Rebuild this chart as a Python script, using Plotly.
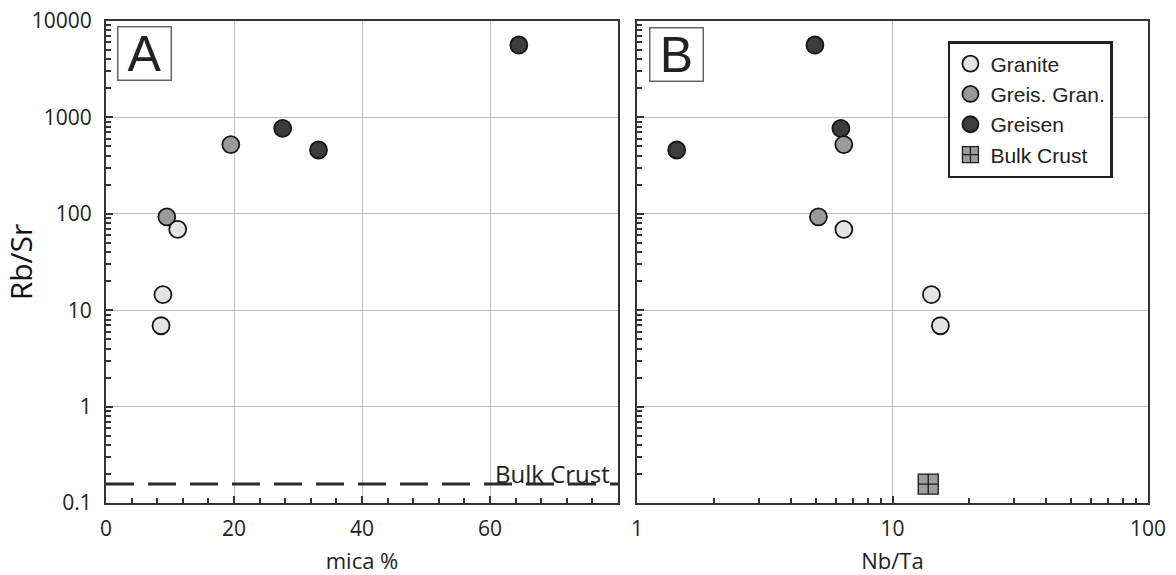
import plotly.graph_objects as go

# ---- data ----
granite_mica = [11.2, 8.9, 8.6]
granite_nbta = [6.45, 14.2, 15.4]
granite_rbsr = [69, 14.5, 6.9]

greisgran_mica = [9.5, 19.5]
greisgran_nbta = [5.13, 6.45]
greisgran_rbsr = [93, 522]

greisen_mica = [27.6, 33.2, 64.5]
greisen_nbta = [6.28, 1.43, 4.97]
greisen_rbsr = [771, 459, 5636]

bulk_nbta = [13.8]
bulk_rbsr = [0.157]
bulk_line_mica = [0, 80]

y_ticks = [0.1, 1, 10, 100, 1000, 10000]
y_ticktext = ["0.1", "1", "10", "100", "1000", "10000"]
xa_ticks = [0, 20, 40, 60]
xb_ticks = [1, 10, 100]
xb_ticktext = ["1", "10", "100"]

# ---- styles ----
OUT = "#151515"
C_GRAN = "#e4e4e4"
C_GG = "#9a9a9a"
C_GREISEN = "#3c3c3c"
MS = 17
TICKFONT = dict(family="Open Sans", size=21, color="#222")

fig = go.Figure()

series = [
    ("Greisen", greisen_mica, greisen_nbta, greisen_rbsr, C_GREISEN, 3),
    ("Greis. Gran.", greisgran_mica, greisgran_nbta, greisgran_rbsr, C_GG, 2),
    ("Granite", granite_mica, granite_nbta, granite_rbsr, C_GRAN, 1),
]

for name, mica, nbta, rbsr, col, rank in series:
    mk = dict(size=MS, color=col, line=dict(color=OUT, width=1.8))
    fig.add_trace(go.Scatter(x=mica, y=rbsr, mode="markers", name=name, marker=mk,
                             legendgroup=name, legendrank=rank, showlegend=False,
                             xaxis="x", yaxis="y"))
    fig.add_trace(go.Scatter(x=nbta, y=rbsr, mode="markers", name=name, marker=mk,
                             legendgroup=name, legendrank=rank, showlegend=True,
                             xaxis="x2", yaxis="y2"))

# Bulk crust dashed line in A
fig.add_trace(go.Scatter(x=bulk_line_mica, y=bulk_rbsr * 2, mode="lines",
                         line=dict(color="#2a2a2a", width=3, dash="28px,14px"),
                         showlegend=False, hoverinfo="skip", xaxis="x", yaxis="y"))

# Bulk crust point in B
fig.add_trace(go.Scatter(x=bulk_nbta, y=bulk_rbsr, mode="markers", name="Bulk Crust",
                         marker=dict(symbol="square-cross", size=20,
                                     color="rgba(140,140,140,0.85)",
                                     line=dict(color="#1a1a1a", width=1.3)),
                         legendrank=4, showlegend=True, xaxis="x2", yaxis="y2"))

axis_common = dict(
    showline=True, linecolor="#333", linewidth=2, mirror=True,
    showgrid=True, gridcolor="#bdbdbd", gridwidth=1,
    ticks="inside", ticklen=7, tickwidth=1.5, tickcolor="#333",
    tickfont=TICKFONT, zeroline=False, automargin=False,
)

minor_log = [m * 10 ** e for e in range(-1, 4) for m in range(2, 10)]
minor_log_x = [m * 10 ** e for e in range(0, 2) for m in range(2, 10)]

fig.update_layout(
    width=1176, height=575,
    margin=dict(l=106, r=28, t=21, b=72),
    paper_bgcolor="white", plot_bgcolor="white",
    showlegend=True,
    legend=dict(x=0.808, y=0.9585, xanchor="left", yanchor="top",
                bordercolor="#222", borderwidth=2.5, bgcolor="white",
                font=dict(family="Liberation Sans", size=21, color="#222"),
                traceorder="normal"),
    xaxis=dict(domain=[0, 0.4914], range=[0, 80], tickvals=xa_ticks,
               ticklabelstandoff=6,
               minor=dict(dtick=4, ticks="inside", ticklen=5, tickcolor="#333", showgrid=False),
               title=dict(text="mica %", font=dict(family="Open Sans", size=22, color="#222"),
                          standoff=16),
               **axis_common),
    yaxis=dict(domain=[0, 1], type="log", range=[-1, 4], tickvals=y_ticks, ticktext=y_ticktext,
               ticklabelstandoff=8,
               minor=dict(tickvals=minor_log, ticks="inside", ticklen=5, tickcolor="#333", showgrid=False),
               title=dict(text="Rb/Sr", font=dict(family="Open Sans", size=30, color="#111"),
                          standoff=4),
               **axis_common),
    xaxis2=dict(domain=[0.5096, 1], type="log", range=[0, 2], tickvals=xb_ticks,
                ticktext=xb_ticktext, ticklabelstandoff=6, anchor="y2",
                minor=dict(tickvals=minor_log_x, ticks="inside", ticklen=5, tickcolor="#333", showgrid=False),
                title=dict(text="Nb/Ta", font=dict(family="Open Sans", size=22, color="#222"),
                           standoff=16),
                **axis_common),
    yaxis2=dict(domain=[0, 1], type="log", range=[-1, 4], tickvals=y_ticks, anchor="x2",
                matches="y", showticklabels=False,
                minor=dict(tickvals=minor_log, ticks="inside", ticklen=5, tickcolor="#333", showgrid=False),
                **axis_common),
)

box_style = dict(showarrow=False, font=dict(family="Liberation Sans", size=50, color="#222"),
                 bordercolor="#666", borderwidth=1.5, borderpad=0, width=52, height=52,
                 bgcolor="white", xanchor="left", yanchor="top", align="center", valign="middle")
fig.add_annotation(text="A", xref="x domain", yref="y domain", x=0.0215, y=0.9896, **box_style)
fig.add_annotation(text="B", xref="x2 domain", yref="y2 domain", x=0.0235, y=0.9876, **box_style)

fig.add_annotation(text="Bulk Crust", xref="x", yref="y", x=79, y=-0.804,
                   xanchor="right", yanchor="bottom", yshift=-8, showarrow=False,
                   font=dict(family="Open Sans", size=24, color="#222"))

fig.write_html("out.html")
